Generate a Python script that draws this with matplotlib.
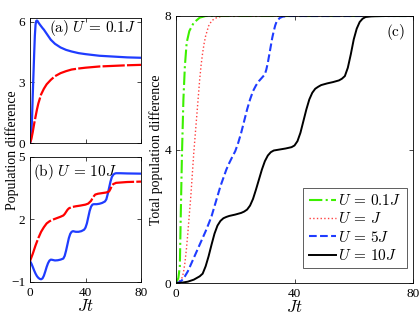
import matplotlib
matplotlib.use("Agg")
import matplotlib.pyplot as plt

plt.rcParams['font.family'] = ['Liberation Serif', 'DejaVu Serif']
plt.rcParams['mathtext.fontset'] = 'cm'
plt.rcParams['font.size'] = 9.5

# ---------------- data ----------------
# panel (a) U = 0.1J
ta = [0, 0.5, 1, 1.5, 2, 2.5, 3, 3.5, 4, 4.5, 5, 5.5, 6, 7, 8, 9, 10, 12, 15, 18, 22, 26, 30,
      35, 40, 45, 50, 60, 70, 80]
blue_a = [0, 0.1, 0.5, 1.3, 2.4, 3.4, 4.4, 5.3, 5.85, 6.03, 6.05, 6.02, 5.96, 5.86, 5.77,
          5.68, 5.6, 5.4, 5.1, 4.9, 4.72, 4.6, 4.52, 4.44, 4.39, 4.35, 4.31, 4.27, 4.23, 4.21]
ta_r = [0, 1, 2, 3, 4, 5, 6, 8, 10, 12, 15, 18, 22, 26, 30, 35, 40, 45, 50, 60, 70, 80]
red_a = [0, 0.2, 0.55, 0.95, 1.3, 1.65, 1.95, 2.4, 2.68, 2.9, 3.12, 3.3, 3.45, 3.55, 3.63,
         3.68, 3.72, 3.75, 3.78, 3.81, 3.84, 3.86]

# panel (b) U = 10J
tb = [0, 1, 2, 3, 4, 5, 6, 7, 8, 9, 10, 11, 12, 13, 14, 15, 16, 18, 20, 22, 24, 25, 26, 27,
      28, 29, 30, 31, 33, 35, 37, 39, 40, 41, 42, 43, 44, 45, 46, 48, 50, 52, 54, 55, 56, 57,
      58, 59, 60, 61, 62, 65, 70, 80]
blue_b = [0, -0.12, -0.28, -0.45, -0.6, -0.72, -0.8, -0.85, -0.87, -0.83, -0.7, -0.5, -0.28,
          -0.1, 0.02, 0.07, 0.06, 0.03, 0.04, 0.07, 0.12, 0.25, 0.5, 0.8, 1.1, 1.3, 1.4, 1.43,
          1.4, 1.4, 1.43, 1.5, 1.6, 1.8, 2.1, 2.4, 2.6, 2.7, 2.72, 2.72, 2.74, 2.78, 2.85, 2.95,
          3.2, 3.5, 3.8, 4.02, 4.13, 4.18, 4.2, 4.2, 4.19, 4.18]
tb_r = [0, 2, 4, 6, 8, 10, 12, 14, 16, 18, 20, 22, 24, 25, 26, 27, 28, 30, 33, 36, 40, 42,
        44, 45, 46, 47, 49, 52, 55, 57, 58, 59, 60, 62, 66, 70, 80]
red_b = [0, 0.35, 0.75, 1.1, 1.4, 1.62, 1.8, 1.9, 1.97, 2.02, 2.07, 2.12, 2.18, 2.25, 2.35,
         2.45, 2.52, 2.58, 2.62, 2.65, 2.7, 2.75, 2.88, 3.0, 3.1, 3.18, 3.22, 3.25, 3.28, 3.33,
         3.45, 3.6, 3.68, 3.74, 3.76, 3.78, 3.8]

# panel (c) total population difference
tc_g = [0, 0.8, 1.3, 1.6, 2.0, 2.5, 3.0, 3.6, 4.5, 6, 8, 10, 80]
green_c = [0, 0.15, 0.5, 2.0, 3.8, 5.5, 6.5, 7.2, 7.55, 7.8, 7.95, 8, 8]
tc_r = [0, 1, 2, 2.5, 3, 3.5, 4, 4.5, 5, 5.5, 6, 6.5, 7, 7.5, 8, 8.5, 9, 9.5, 10, 11, 12, 13,
        14, 16, 80]
red_c = [0, 0.05, 0.15, 0.3, 0.6, 1.0, 1.5, 2.05, 2.6, 3.25, 3.9, 4.45, 5.0, 5.55, 6.1, 6.55,
         6.9, 7.18, 7.4, 7.7, 7.85, 7.92, 7.96, 8, 8]
tc_b = [0, 1, 2, 3, 4, 5, 6, 7, 8, 9, 10, 11, 12, 13, 14, 15, 16, 17, 18, 19, 20, 21, 22, 23,
        24, 25, 26, 27, 28, 29, 30, 30.5, 31, 31.5, 32, 32.5, 33, 33.5, 34, 35, 36, 38, 80]
blue_c = [0, 0.02, 0.08, 0.2, 0.35, 0.55, 0.75, 0.95, 1.15, 1.35, 1.55, 1.77, 2.0, 2.3, 2.6,
          2.9, 3.15, 3.4, 3.6, 3.78, 3.95, 4.2, 4.5, 4.85, 5.2, 5.5, 5.75, 5.92, 6.05, 6.15,
          6.25, 6.4, 6.6, 6.85, 7.1, 7.35, 7.55, 7.72, 7.84, 7.94, 7.98, 8, 8]
tc_k = [0, 2, 4, 6, 7, 8, 9, 10, 11, 12, 13, 14, 15, 16, 17, 18, 20, 22, 23, 24, 25, 26, 27,
        28, 29, 30, 31, 32, 33, 35, 37, 39, 40, 41, 42, 43, 44, 45, 46, 47, 48, 49, 51, 53,
        55, 56, 57, 58, 59, 60, 61, 62, 63, 64, 66, 70, 80]
black_c = [0, 0.01, 0.04, 0.1, 0.15, 0.2, 0.28, 0.5, 0.8, 1.15, 1.48, 1.72, 1.86, 1.94, 1.98,
           2.01, 2.05, 2.1, 2.14, 2.2, 2.32, 2.52, 2.8, 3.1, 3.4, 3.65, 3.82, 3.92, 3.97, 4.0,
           4.03, 4.07, 4.12, 4.25, 4.5, 4.85, 5.2, 5.5, 5.7, 5.82, 5.88, 5.93, 5.98, 6.02,
           6.07, 6.12, 6.2, 6.45, 6.85, 7.3, 7.62, 7.82, 7.92, 7.97, 7.99, 8, 8]

legend_labels = [r'$U\,=\,0.1J$', r'$U\,=\,J$', r'$U\,=\,5J$', r'$U\,=\,10J$']

BLUE = '#1f3cff'
RED = '#ff0000'
GREEN = '#3cf000'

fig = plt.figure(figsize=(4.2, 3.27), dpi=100)

W, H = 420.0, 327.0
def rect(l, t, r, b):
    return [l / W, 1 - b / H, (r - l) / W, (b - t) / H]

axa = fig.add_axes(rect(30, 17.5, 141, 143))
axb = fig.add_axes(rect(30, 156.5, 141, 282))
axc = fig.add_axes(rect(176, 16, 413, 283))

for ax in (axa, axb, axc):
    ax.tick_params(direction='in', top=True, right=True, length=3, width=0.5, pad=3.5,
                   labelsize=9.5)
    for s in ax.spines.values():
        s.set_linewidth(0.6)
    ax.set_xlim(0, 80)
    ax.set_xticks([0, 40, 80])

# (a)
axa.plot(ta, blue_a, color=BLUE, lw=1.6)
axa.plot(ta_r, red_a, color=RED, lw=1.6, linestyle=(0, (10, 1)))
axa.set_ylim(0, 6.2)
axa.set_yticks([0, 3, 6])
axa.set_xticklabels([])
axa.text(0.96, 0.92, r'$\mathrm{(a)}\ U\,=\,0.1J$', transform=axa.transAxes, ha='right',
         va='center', fontsize=11)

# (b)
axb.plot(tb, blue_b, color=BLUE, lw=1.6)
axb.plot(tb_r, red_b, color=RED, lw=1.6, linestyle=(0, (10, 1)))
axb.set_ylim(-1, 5)
axb.set_yticks([-1, 2, 5])
axb.set_xlabel(r'$Jt$', fontsize=12, labelpad=0)
axb.text(0.03, 0.88, r'$\mathrm{(b)}\ U\,=\,10J$', transform=axb.transAxes, ha='left',
         va='center', fontsize=11)

# (c)
l1, = axc.plot(tc_g, green_c, color=GREEN, lw=1.5, linestyle='-.')
l2, = axc.plot(tc_r, red_c, color='#ff4040', lw=1.0, linestyle=':')
l3, = axc.plot(tc_b, blue_c, color=BLUE, lw=1.5, linestyle='--')
l4, = axc.plot(tc_k, black_c, color='black', lw=1.4)
axc.set_ylim(0, 8)
axc.set_yticks([0, 4, 8])
axc.set_xlabel(r'$Jt$', fontsize=12, labelpad=0)
axc.set_ylabel('Total population difference', fontsize=10)
axc.yaxis.set_label_coords(-13 / 237.0, 0.5)
axc.text(0.925, 0.94, r'$\mathrm{(c)}$', transform=axc.transAxes, ha='center',
         va='center', fontsize=11)
leg = axc.legend([l1, l2, l3, l4], legend_labels, loc='lower right',
                 bbox_to_anchor=(0.975, 0.055), fontsize=11, handlelength=1.8,
                 handletextpad=0.15, labelspacing=0.22, borderpad=0.35,
                 fancybox=False, framealpha=1, edgecolor='#444444', borderaxespad=0)
leg.get_frame().set_linewidth(0.6)

fig.text(12 / W, 1 - 150 / H, 'Population difference', rotation=90, ha='center',
         va='center', fontsize=10)

fig.savefig('out.png', dpi=100)
